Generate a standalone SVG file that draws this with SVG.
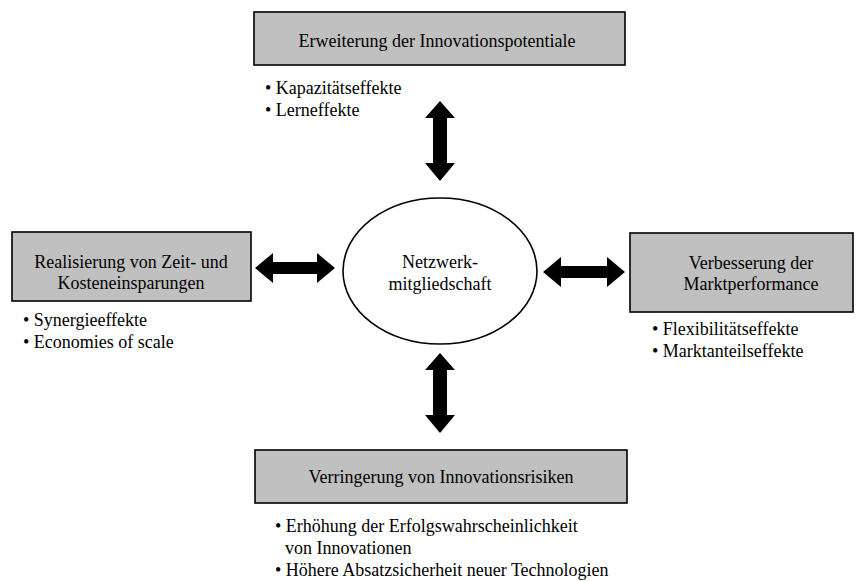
<svg xmlns="http://www.w3.org/2000/svg" width="856" height="581" viewBox="0 0 856 581" font-family="'Liberation Serif', 'DejaVu Serif', serif">
<style>
text{font-family:'Liberation Serif','DejaVu Serif',serif;font-size:18px;fill:#000}
.c{text-anchor:middle}
.box{fill:#c0c0c0;stroke:#000;stroke-width:1.6}
.ell{fill:#fff;stroke:#000;stroke-width:1.6}
.arr{fill:#000}
</style>
<rect width="856" height="581" fill="#fff"/>
<g id="connectors">
<polygon class="arr" points="440,101 455,118 447,118 447,163 455,163 440,181 425,163 433,163 433,118 425,118"/>
<polygon class="arr" points="440,353 455,370 447,370 447,415 455,415 440,433 425,415 433,415 433,370 425,370"/>
<polygon class="arr" points="255,268 273,253 273,262 317,262 317,253 335,268 317,283 317,274 273,274 273,283"/>
<polygon class="arr" points="543,272 561,257 561,266 607,266 607,257 625,272 607,287 607,278 561,278 561,287"/>
</g>
<g id="top">
<rect class="box" x="254" y="12" width="371" height="53"/>
<text class="c" x="437" y="47">Erweiterung der Innovationspotentiale</text>
<text x="265" y="94">• Kapazitätseffekte</text>
<text x="265" y="116">• Lerneffekte</text>
</g>
<g id="left">
<rect class="box" x="12" y="232" width="239" height="69"/>
<text class="c" x="131" y="268">Realisierung von Zeit- und</text>
<text class="c" x="131" y="289">Kosteneinsparungen</text>
<text x="23" y="326">• Synergieeffekte</text>
<text x="23" y="348">• Economies of scale</text>
</g>
<g id="center">
<ellipse class="ell" cx="440" cy="271" rx="97" ry="73"/>
<text class="c" x="440" y="268">Netzwerk-</text>
<text class="c" x="440" y="290">mitgliedschaft</text>
</g>
<g id="right">
<rect class="box" x="630" y="233" width="223" height="79"/>
<text class="c" x="751" y="269">Verbesserung der</text>
<text class="c" x="751" y="290">Marktperformance</text>
<text x="652" y="335">• Flexibilitätseffekte</text>
<text x="652" y="357">• Marktanteilseffekte</text>
</g>
<g id="bottom">
<rect class="box" x="255" y="450" width="372" height="53"/>
<text class="c" x="441" y="483">Verringerung von Innovationsrisiken</text>
<text x="275" y="532">• Erhöhung der Erfolgswahrscheinlichkeit</text>
<text x="285" y="554">von Innovationen</text>
<text x="275" y="576">• Höhere Absatzsicherheit neuer Technologien</text>
</g>
</svg>
